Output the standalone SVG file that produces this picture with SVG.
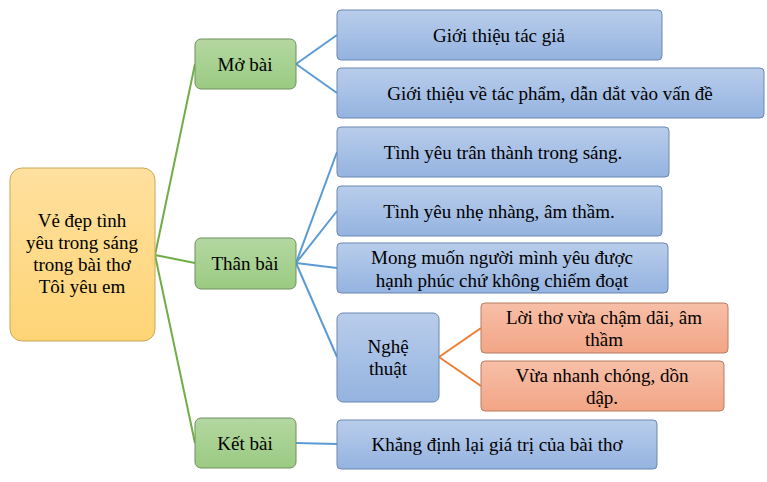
<svg xmlns="http://www.w3.org/2000/svg" width="767" height="482" viewBox="0 0 767 482">
<defs>
<linearGradient id="gy" x1="0" y1="0" x2="0" y2="1"><stop offset="0" stop-color="#ffe09e"/><stop offset="1" stop-color="#fed475"/></linearGradient>
<linearGradient id="gg" x1="0" y1="0" x2="0" y2="1"><stop offset="0" stop-color="#b4d7a1"/><stop offset="1" stop-color="#9acb82"/></linearGradient>
<linearGradient id="gb" x1="0" y1="0" x2="0" y2="1"><stop offset="0" stop-color="#b9cdeb"/><stop offset="1" stop-color="#94b3e0"/></linearGradient>
<linearGradient id="go" x1="0" y1="0" x2="0" y2="1"><stop offset="0" stop-color="#f7bfa8"/><stop offset="1" stop-color="#f2a585"/></linearGradient>
<style>
text{font-family:"Liberation Serif",serif;font-size:19px;fill:#000;text-anchor:middle}
.y{fill:url(#gy);stroke:#c9a857}
.g{fill:url(#gg);stroke:#6f8f5e}
.b{fill:url(#gb);stroke:#6a87b3}
.o{fill:url(#go);stroke:#b87c63}
.lg{stroke:#70ad47;stroke-width:2;fill:none}
.lb{stroke:#5b9bd5;stroke-width:2;fill:none}
.lo{stroke:#ed7d31;stroke-width:2;fill:none}
</style>
</defs>
<g id="connectors">
<path class="lg" d="M155 255L195 64M155 255L195 263M155 255L195 443"/>
<path class="lb" d="M296 64L337 35M296 64L337 93M296 263L337 152M296 263L337 211M296 263L337 268M296 263L337 357M296 443L337 444"/>
<path class="lo" d="M439 357L481 328M439 357L481 386"/>
</g>
<g id="root"><rect class="y" x="10" y="168" width="145" height="173" rx="12"/><text x="82" y="227">Vẻ đẹp tình</text><text x="82" y="249">yêu trong sáng</text><text x="82" y="271">trong bài thơ</text><text x="82" y="293">Tôi yêu em</text></g>
<g id="mobai"><rect class="g" x="195" y="39" width="101" height="50" rx="6"/><text x="245" y="71">Mở bài</text></g>
<g id="thanbai"><rect class="g" x="195" y="238" width="101" height="51" rx="6"/><text x="245" y="270">Thân bài</text></g>
<g id="ketbai"><rect class="g" x="195" y="418" width="101" height="50" rx="6"/><text x="245" y="450">Kết bài</text></g>
<g id="n1"><rect class="b" x="337" y="10" width="325" height="50" rx="4"/><text x="499" y="42">Giới thiệu tác giả</text></g>
<g id="n2"><rect class="b" x="337" y="68" width="427" height="50" rx="4"/><text x="550" y="100">Giới thiệu về tác phẩm, dẫn dắt vào vấn đề</text></g>
<g id="n3"><rect class="b" x="337" y="127" width="332" height="50" rx="4"/><text x="503" y="159">Tình yêu trân thành trong sáng.</text></g>
<g id="n4"><rect class="b" x="337" y="186" width="325" height="50" rx="4"/><text x="499" y="218">Tình yêu nhẹ nhàng, âm thầm.</text></g>
<g id="n5"><rect class="b" x="337" y="243" width="331" height="50" rx="4"/><text x="502" y="264">Mong muốn người mình yêu được</text><text x="502" y="287">hạnh phúc chứ không chiếm đoạt</text></g>
<g id="n6"><rect class="b" x="337" y="313" width="102" height="89" rx="6"/><text x="388" y="353">Nghệ</text><text x="388" y="375">thuật</text></g>
<g id="n7"><rect class="o" x="481" y="303" width="247" height="50" rx="4"/><text x="604" y="324">Lời thơ vừa chậm dãi, âm</text><text x="604" y="346">thầm</text></g>
<g id="n8"><rect class="o" x="481" y="361" width="243" height="50" rx="4"/><text x="602" y="382">Vừa nhanh chóng, dồn</text><text x="602" y="404">dập.</text></g>
<g id="n9"><rect class="b" x="337" y="420" width="320" height="49" rx="4"/><text x="497" y="451">Khẳng định lại giá trị của bài thơ</text></g>
</svg>
